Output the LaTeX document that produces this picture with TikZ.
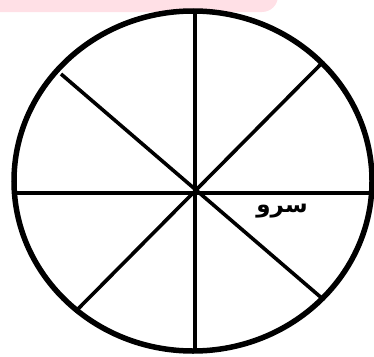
\documentclass[tikz,border=0pt]{standalone}
\usepackage{fontspec}
\TeXXeTstate=1
\newfontfamily\arabicfont[Script=Arabic]{DejaVu Sans Bold}
\definecolor{banner}{RGB}{255,224,230}
\begin{document}
\begin{tikzpicture}[x=1pt,y=-1pt,
  rim/.style={draw=black,line width=5.5pt},
  spoke/.style={draw=black,line width=3.6pt},
  lbl/.style={font=\arabicfont\fontsize{23}{26}\selectfont,inner sep=0pt}]
\useasboundingbox (0,0) rectangle (374,356);
\begin{scope}
\clip (0,0) rectangle (374,356);
\fill[banner,rounded corners=16pt] (-30,-40) rectangle (278,12);
\end{scope}
\coordinate (c) at (195,192);
\coordinate (n) at (195,14);
\coordinate (s) at (195,350);
\coordinate (w) at (15,193);
\coordinate (e) at (371,193);
\coordinate (nw) at (61,74);
\coordinate (se) at (324,300);
\coordinate (ne) at (323,62);
\coordinate (sw) at (75,312);
\draw[spoke] (n) -- (s);
\draw[spoke] (w) -- (e);
\draw[spoke] (nw) -- (se);
\draw[spoke] (ne) -- (sw);
\draw[rim] (193,181) ellipse [x radius=179, y radius=170];
\node[lbl] (t) at (282,211) {\beginR سرو\endR};
\end{tikzpicture}
\end{document}
